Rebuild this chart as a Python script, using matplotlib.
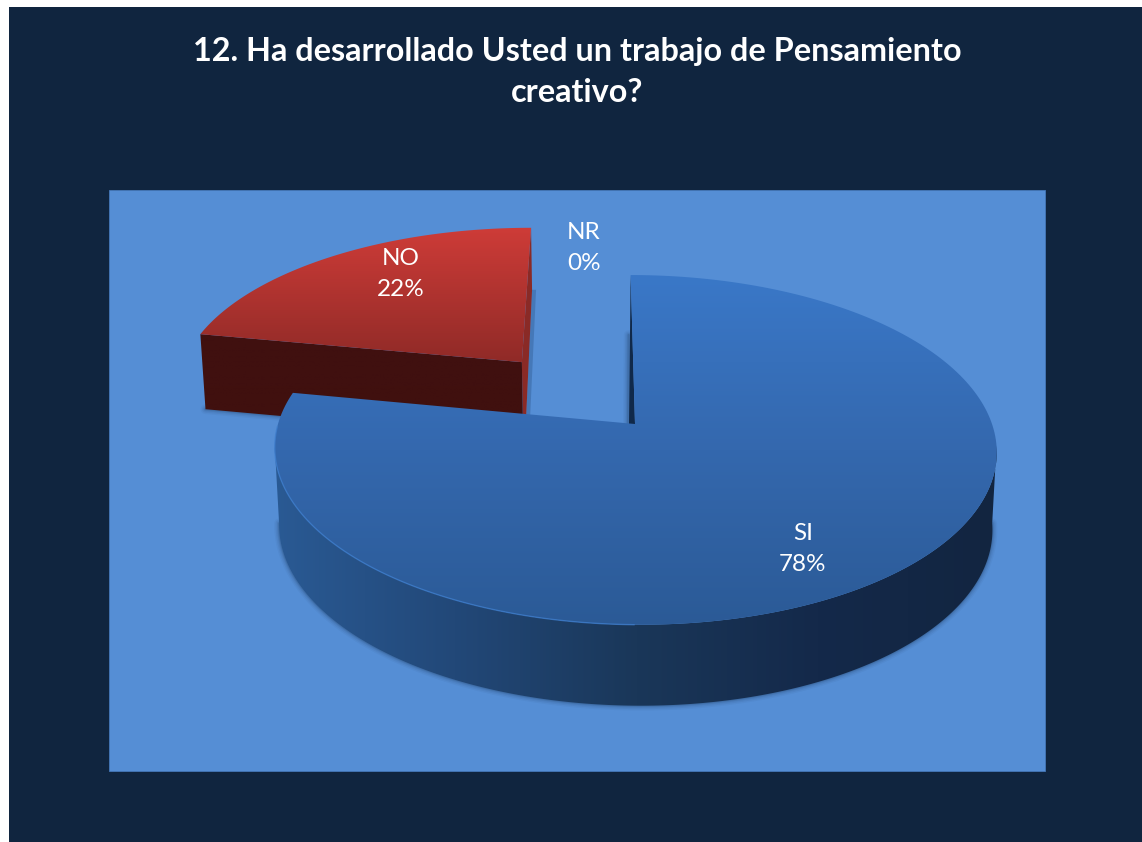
import numpy as np
import matplotlib
matplotlib.use("Agg")
import matplotlib.pyplot as plt
from matplotlib.colors import LinearSegmentedColormap
from matplotlib.patches import Polygon, Rectangle

title_lines = ["12. Ha desarrollado Usted un trabajo de Pensamiento", "creativo?"]
categories = ["SI", "NO", "NR"]
values = [78, 22, 0]

# pie layout, in image pixels
CX, CY = 635, 424
A, B, K = 357, 171, 0.148
DEPTH = 77
SHRINK = 0.988
EXPLODE = {"NO": 0.496}
NUDGE_X = {"NO": -4.5}
label_pos = {"SI": (803, 549), "NO": (401, 274), "NR": (584, 248)}

BG = "#10253F"
PLOT = "#558ED5"
FONT = "Lato"


def project(th, z=0.0, du=0.0, dv=0.0, nudge=0.0):
    # clockwise angle from the top, through a simple perspective
    u = np.sin(th) + du
    v = np.cos(th) + dv
    return project_uv(u, v, z, nudge)


def project_uv(u, v, z=0.0, nudge=0.0):
    w = 1 + K * v
    s = 1 - (1 - SHRINK) * z
    x = CX + A * u / w * s - 5 * v / w + nudge
    y = CY - B * v / w * s + DEPTH * z / np.sqrt(w)
    return np.column_stack([x, y]) if np.ndim(x) else np.array([x, y])


def fill_gradient(ax, pts, colors, horizontal=False, zorder=3):
    cmap = LinearSegmentedColormap.from_list("g", colors)
    x0, x1 = pts[:, 0].min() - 2, pts[:, 0].max() + 2
    y0, y1 = pts[:, 1].min() - 2, pts[:, 1].max() + 2
    grad = np.linspace(0, 1, 256)
    grad = grad[None, :] if horizontal else grad[:, None]
    im = ax.imshow(grad, cmap=cmap, extent=(x0, x1, y1, y0), aspect="auto", zorder=zorder)
    clip = Polygon(pts, closed=True, transform=ax.transData, fc="none", ec="none")
    ax.add_patch(clip)
    im.set_clip_path(clip)


def soft_shadow(ax, pts, zorder):
    for lw, alpha in [(7, 0.04), (5, 0.06), (3, 0.08), (1.5, 0.12)]:
        ax.plot(pts[:, 0], pts[:, 1], color="#0B1E38", lw=lw, alpha=alpha,
                solid_capstyle="round", zorder=zorder)


fig = plt.figure(figsize=(11.42, 8.42), dpi=100, facecolor="white")
ax = fig.add_axes([0, 0, 1, 1])
ax.set_xlim(0, 1142)
ax.set_ylim(842, 0)
ax.axis("off")

ax.add_patch(Rectangle((9, 7), 1133, 835, fc=BG, ec="none", zorder=0))
ax.add_patch(Rectangle((109, 190), 936, 581, fc=PLOT, ec="#4478B8", lw=0.6, zorder=1))

# slice angles, clockwise from the top, in data order
fracs = np.array(values) / sum(values)
starts = 2 * np.pi * np.concatenate([[0], np.cumsum(fracs)[:-1]])
ends = 2 * np.pi * np.cumsum(fracs)

for cat, a0, a1 in zip(categories, starts, ends):
    if a1 - a0 <= 0:
        continue
    ths = np.linspace(a0, a1, 240)
    mid = (a0 + a1) / 2
    d = EXPLODE.get(cat, 0.0)
    n = NUDGE_X.get(cat, 0.0)
    du, dv = d * np.sin(mid), d * np.cos(mid)
    rim = project(ths, 0, du, dv, n)
    apex = project_uv(du, dv, 0, n)
    apex_low = project_uv(du, dv, 1, n)
    face = np.vstack([apex, rim])

    if cat == "NO":
        start_low = project(a0, 1, du, dv, n)
        end_top = project(a1, 0, du, dv, n)
        soft_shadow(ax, np.vstack([start_low, apex_low]), 2)
        # shadow, right edge wall, cut wall along the front, then the top
        ax.add_patch(Polygon([end_top + [1, 62], end_top + [5, 62], apex_low + [6, 0], apex_low + [2, 0]],
                             closed=True, fc="#3F6FAC", ec="none", alpha=0.7, zorder=2))
        ax.add_patch(Polygon([end_top, end_top + [1, 62], apex_low + [2, 0], apex_low, apex],
                             closed=True, fc="#8A2A26", ec="none", zorder=3))
        fill_gradient(ax, np.array([rim[0], apex, apex_low, start_low]),
                      ["#401010", "#40100E"], zorder=3)
        fill_gradient(ax, face, ["#CF3C38", "#8F2A27"], zorder=4)
    else:
        # outer wall only where it faces the viewer
        sweep = np.linspace(np.pi * 0.54, min(a1, np.pi * 1.46), 240)
        wall_top = project(sweep, 0)
        wall_low = project(sweep, 1)
        soft_shadow(ax, wall_low, 5)
        fill_gradient(ax, np.vstack([wall_top, wall_low[::-1]]),
                      ["#2A5A94", "#224878", "#1A3759", "#14294A", "#122540"],
                      horizontal=True, zorder=6)
        # thin dark wall beside the vertical cut
        top = project(0.0, 0)
        soft_shadow(ax, np.array([top + [-2, 60], apex + [-7, 0]]), 5)
        ax.add_patch(Polygon([top, apex, apex + [-6, 0]], closed=True, fc="#10294A", ec="none", zorder=6))
        fill_gradient(ax, face, ["#3A78C8", "#3468AE", "#2B5A96"], zorder=7)
        front = (ths > np.pi * 1.0) & (ths < np.pi * 1.5)
        ax.plot(rim[front, 0], rim[front, 1], color="#3F7FCF", lw=1.0, alpha=0.7, zorder=8)

for cat, val in zip(categories, values):
    x, y = label_pos[cat]
    ax.text(x, y, f"{cat}\n{val}%", color="white", fontsize=17.5, family=FONT,
            ha="center", va="center", linespacing=1.55, zorder=9)

ax.text(577, 51, title_lines[0], color="white", fontsize=23.3, fontweight="bold", family=FONT,
        ha="center", va="center", zorder=9)
ax.text(577, 93, title_lines[1], color="white", fontsize=23.3, fontweight="bold", family=FONT,
        ha="center", va="center", zorder=9)

fig.savefig("out.png", dpi=100, facecolor="white")
